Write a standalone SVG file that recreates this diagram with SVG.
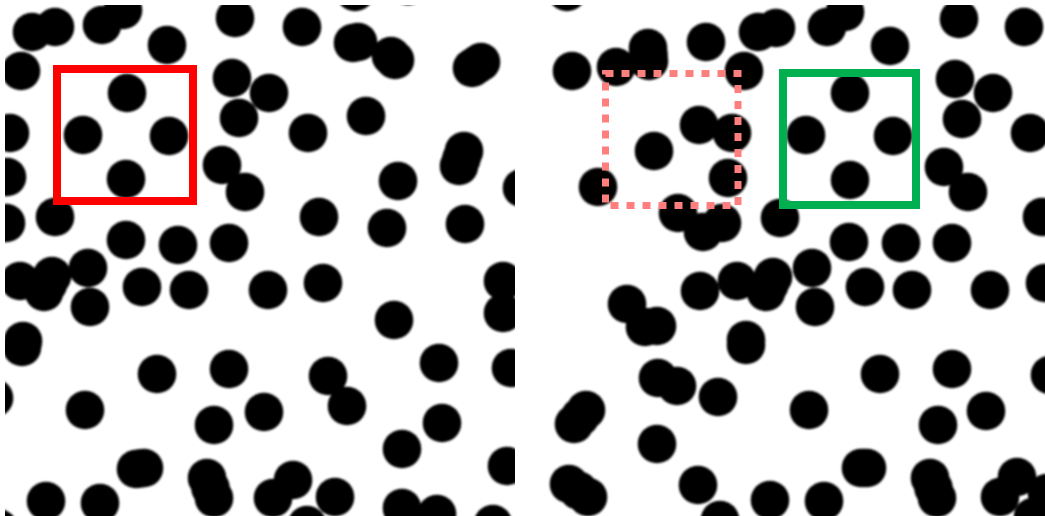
<svg xmlns="http://www.w3.org/2000/svg" width="1045" height="516" viewBox="0 0 1045 516">
<style>
circle{fill:#000}
.box{fill:none}
</style>
<defs>
<clipPath id="clipL"><rect x="5" y="5" width="510" height="511"/></clipPath>
<clipPath id="clipR"><rect x="535" y="5" width="510" height="511"/></clipPath>
<filter id="soft" x="-5%" y="-5%" width="110%" height="110%"><feGaussianBlur stdDeviation="0.9"/></filter>
</defs>
<rect x="0" y="0" width="1045" height="516" fill="#fff"/>
<g id="left-panel" clip-path="url(#clipL)">
<g filter="url(#soft)">
<g id="left-dots">
<circle cx="32" cy="32" r="19.3"/><circle cx="55" cy="27" r="19.3"/><circle cx="102" cy="25" r="19.3"/><circle cx="123" cy="10" r="19.3"/><circle cx="167" cy="45" r="19.3"/><circle cx="235" cy="18" r="19.3"/><circle cx="21" cy="71" r="19.3"/>
<circle cx="127" cy="93" r="19.3"/><circle cx="83" cy="135" r="19.3"/><circle cx="169" cy="136" r="19.3"/><circle cx="126" cy="179" r="19.3"/>
<circle cx="10" cy="133" r="19.3"/><circle cx="7" cy="177" r="19.3"/><circle cx="6" cy="223" r="19.3"/><circle cx="55" cy="217" r="19.3"/>
<circle cx="232" cy="78" r="19.3"/><circle cx="239" cy="118" r="19.3"/><circle cx="222" cy="165" r="19.3"/><circle cx="245" cy="192" r="19.3"/>
<circle cx="126" cy="240" r="19.3"/><circle cx="178" cy="245" r="19.3"/><circle cx="229" cy="243" r="19.3"/>
<circle cx="355" cy="-8" r="19.3"/><circle cx="408" cy="-14" r="19.3"/><circle cx="302" cy="27" r="19.3"/><circle cx="353" cy="43" r="19.3"/><circle cx="358" cy="42" r="19.3"/><circle cx="391" cy="56" r="19.3"/><circle cx="395" cy="60" r="19.3"/><circle cx="472" cy="68" r="19.3"/><circle cx="476.5" cy="65" r="19.3"/><circle cx="481" cy="62" r="19.3"/>
<circle cx="269" cy="93" r="19.3"/><circle cx="308" cy="133" r="19.3"/><circle cx="366" cy="116" r="19.3"/><circle cx="464" cy="151" r="19.3"/><circle cx="461.5" cy="158.5" r="19.3"/><circle cx="459" cy="166" r="19.3"/><circle cx="398" cy="181" r="19.3"/><circle cx="522" cy="188" r="19.3"/><circle cx="319" cy="217" r="19.3"/><circle cx="387" cy="228" r="19.3"/><circle cx="465" cy="224" r="19.3"/>
<circle cx="20" cy="281" r="19.3"/><circle cx="52" cy="276" r="19.3"/><circle cx="48" cy="284" r="19.3"/><circle cx="44" cy="292" r="19.3"/><circle cx="88" cy="268" r="19.3"/><circle cx="90" cy="307" r="19.3"/><circle cx="142" cy="287" r="19.3"/><circle cx="189" cy="290" r="19.3"/><circle cx="268" cy="290" r="19.3"/>
<circle cx="23" cy="341" r="19.3"/><circle cx="22" cy="347" r="19.3"/><circle cx="-6" cy="398" r="19.3"/><circle cx="157" cy="374" r="19.3"/><circle cx="229" cy="369" r="19.3"/><circle cx="85" cy="410" r="19.3"/><circle cx="214" cy="425" r="19.3"/><circle cx="264" cy="412" r="19.3"/>
<circle cx="136" cy="469" r="19.3"/><circle cx="140" cy="468.5" r="19.3"/><circle cx="144" cy="468" r="19.3"/><circle cx="207" cy="478" r="19.3"/><circle cx="210.5" cy="488" r="19.3"/><circle cx="214" cy="498" r="19.3"/><circle cx="46" cy="501" r="19.3"/><circle cx="100" cy="503" r="19.3"/><circle cx="-2" cy="528" r="19.3"/>
<circle cx="323" cy="283" r="19.3"/><circle cx="394" cy="320" r="19.3"/><circle cx="503" cy="281" r="19.3"/><circle cx="503" cy="313" r="19.3"/><circle cx="439" cy="363" r="19.3"/><circle cx="511" cy="368" r="19.3"/><circle cx="328" cy="376" r="19.3"/><circle cx="347" cy="406" r="19.3"/><circle cx="442" cy="423" r="19.3"/><circle cx="402" cy="449" r="19.3"/><circle cx="507" cy="466" r="19.3"/>
<circle cx="293" cy="480" r="19.3"/><circle cx="273" cy="498" r="19.3"/><circle cx="335" cy="497" r="19.3"/><circle cx="307" cy="525" r="19.3"/><circle cx="402" cy="508" r="19.3"/><circle cx="437" cy="514" r="19.3"/><circle cx="493" cy="524" r="19.3"/>
</g>
</g>
</g>
<g id="right-panel" clip-path="url(#clipR)">
<g filter="url(#soft)">
<g id="right-dots">
<circle cx="567" cy="-8" r="19.3"/><circle cx="572" cy="71" r="19.3"/><circle cx="616" cy="67" r="19.3"/><circle cx="648" cy="48" r="19.3"/><circle cx="648.5" cy="54.5" r="19.3"/><circle cx="649" cy="61" r="19.3"/><circle cx="706" cy="42" r="19.3"/><circle cx="758" cy="32" r="19.3"/><circle cx="776" cy="28" r="19.3"/><circle cx="744" cy="71" r="19.3"/>
<circle cx="654" cy="151" r="19.3"/><circle cx="699" cy="125" r="19.3"/><circle cx="732" cy="133" r="19.3"/><circle cx="728" cy="178" r="19.3"/><circle cx="598" cy="187" r="19.3"/><circle cx="678" cy="213" r="19.3"/><circle cx="703" cy="232" r="19.3"/><circle cx="722" cy="223" r="19.3"/><circle cx="780" cy="218" r="19.3"/>
<circle cx="827" cy="27" r="19.3"/><circle cx="845" cy="12" r="19.3"/><circle cx="890" cy="46" r="19.3"/><circle cx="959" cy="19" r="19.3"/><circle cx="1024" cy="27" r="19.3"/>
<circle cx="850" cy="93" r="19.3"/><circle cx="806" cy="135" r="19.3"/><circle cx="893" cy="136" r="19.3"/><circle cx="850" cy="180" r="19.3"/>
<circle cx="955" cy="79" r="19.3"/><circle cx="993" cy="93" r="19.3"/><circle cx="962" cy="119" r="19.3"/><circle cx="1030" cy="133" r="19.3"/><circle cx="944" cy="167" r="19.3"/><circle cx="968" cy="192" r="19.3"/><circle cx="1042" cy="217" r="19.3"/>
<circle cx="849" cy="242" r="19.3"/><circle cx="901" cy="243" r="19.3"/><circle cx="952" cy="243" r="19.3"/>
<circle cx="627" cy="304" r="19.3"/><circle cx="645" cy="327" r="19.3"/><circle cx="657" cy="326" r="19.3"/><circle cx="700" cy="291" r="19.3"/><circle cx="737" cy="281" r="19.3"/><circle cx="773" cy="277" r="19.3"/><circle cx="769.5" cy="284.5" r="19.3"/><circle cx="766" cy="292" r="19.3"/><circle cx="746" cy="340" r="19.3"/><circle cx="746" cy="345" r="19.3"/>
<circle cx="658" cy="378" r="19.3"/><circle cx="677" cy="386" r="19.3"/><circle cx="718" cy="397" r="19.3"/><circle cx="586" cy="410" r="19.3"/><circle cx="580" cy="417" r="19.3"/><circle cx="574" cy="424" r="19.3"/><circle cx="657" cy="444" r="19.3"/><circle cx="698" cy="485" r="19.3"/><circle cx="569" cy="484" r="19.3"/><circle cx="578.5" cy="490.5" r="19.3"/><circle cx="588" cy="497" r="19.3"/><circle cx="720" cy="520" r="19.3"/><circle cx="770" cy="500" r="19.3"/>
<circle cx="812" cy="268" r="19.3"/><circle cx="815" cy="307" r="19.3"/><circle cx="865" cy="287" r="19.3"/><circle cx="912" cy="290" r="19.3"/><circle cx="990" cy="290" r="19.3"/><circle cx="1045" cy="283" r="19.3"/><circle cx="880" cy="374" r="19.3"/><circle cx="952" cy="369" r="19.3"/><circle cx="1050" cy="375" r="19.3"/>
<circle cx="809" cy="410" r="19.3"/><circle cx="938" cy="425" r="19.3"/><circle cx="986" cy="411" r="19.3"/><circle cx="861" cy="468" r="19.3"/><circle cx="864" cy="468" r="19.3"/><circle cx="867" cy="468" r="19.3"/><circle cx="930" cy="478" r="19.3"/><circle cx="933.5" cy="488" r="19.3"/><circle cx="937" cy="498" r="19.3"/><circle cx="824" cy="501" r="19.3"/><circle cx="1017" cy="477" r="19.3"/><circle cx="1000" cy="497" r="19.3"/><circle cx="1047" cy="493" r="19.3"/><circle cx="1033" cy="517" r="19.3"/>
</g>
</g>
</g>
<g id="boxes">
<rect id="red-box" class="box" x="57" y="69" width="136" height="132" stroke="#FF0000" stroke-width="8"/>
<rect id="dotted-box" class="box" x="605.5" y="73.5" width="132.5" height="132" stroke="#FF7F7F" stroke-width="7" stroke-dasharray="8 8"/>
<rect id="green-box" class="box" x="783" y="73" width="133" height="132" stroke="#00B050" stroke-width="8"/>
</g>
</svg>
